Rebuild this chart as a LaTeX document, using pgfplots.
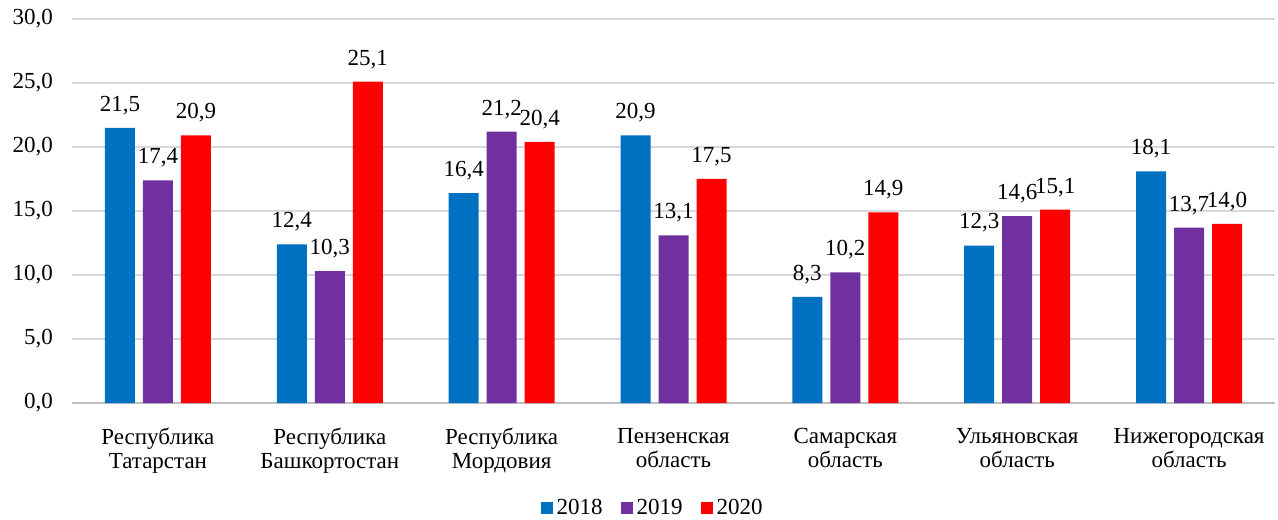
\documentclass[border=0pt]{standalone}
\usepackage{fontspec}
\setmainfont{Liberation Serif}
\usepackage{pgfplots}
\pgfplotsset{compat=1.18}
\definecolor{c18}{HTML}{0070C0}
\definecolor{c19}{HTML}{7030A0}
\definecolor{c20}{HTML}{FF0000}
\begin{document}
\begin{tikzpicture}
\useasboundingbox (-36pt,-58pt) rectangle (603pt,201.5pt);
\begin{axis}[
  at={(0,0)}, anchor=south west,
  scale only axis, width=601.5pt, height=192pt,
  ybar, bar width=15pt,
  ymin=0, ymax=30, ytick={0,5,...,30},
  xmin=-0.5, xmax=6.5,
  xtick={0,...,6},
  xticklabels={{Республика\\Татарстан},{Республика\\Башкортостан},{Республика\\Мордовия},{Пензенская\\область},{Самарская\\область},{Ульяновская\\область},{Нижегородская\\область}},
  xticklabel style={align=center, font=\fontsize{11.5}{12}\selectfont, yshift=-9pt},
  yticklabel style={font=\fontsize{11.5}{12}\selectfont, xshift=-6pt},
  /pgf/number format/assume math mode=true,
  /pgf/number format/fixed,
  /pgf/number format/fixed zerofill,
  /pgf/number format/precision=1,
  /pgf/number format/use comma,
  ymajorgrids, grid style={draw=black!15, line width=0.8pt},
  axis x line*=bottom, axis y line*=left,
  x axis line style={draw=black!25, line width=0.8pt, -},
  y axis line style={draw=none},
  major tick length=0pt,
  nodes near coords,
  nodes near coords style={font=\fontsize{11.5}{12}\selectfont, yshift=3pt, text=black},
  legend style={at={(0.5,-58pt)}, anchor=south, yshift=-3.5pt, xshift=-10pt, draw=none, fill=none, legend columns=3, font=\fontsize{11.5}{12}\selectfont, /tikz/every even column/.append style={column sep=7pt}},
  legend image code/.code={\fill[#1] (-1.5pt,-3pt) rectangle (4.5pt,3pt);},
  enlarge y limits=false,
]
\addplot[fill=c18, draw=none, bar shift=-19pt] coordinates {(0,21.5) (1,12.4) (2,16.4) (3,20.9) (4,8.3) (5,12.3) (6,18.1)};
\addplot[fill=c19, draw=none, bar shift=0pt] coordinates {(0,17.4) (1,10.3) (2,21.2) (3,13.1) (4,10.2) (5,14.6) (6,13.7)};
\addplot[fill=c20, draw=none, bar shift=19pt] coordinates {(0,20.9) (1,25.1) (2,20.4) (3,17.5) (4,14.9) (5,15.1) (6,14.0)};
\legend{2018,2019,2020}
\end{axis}
\end{tikzpicture}
\end{document}
